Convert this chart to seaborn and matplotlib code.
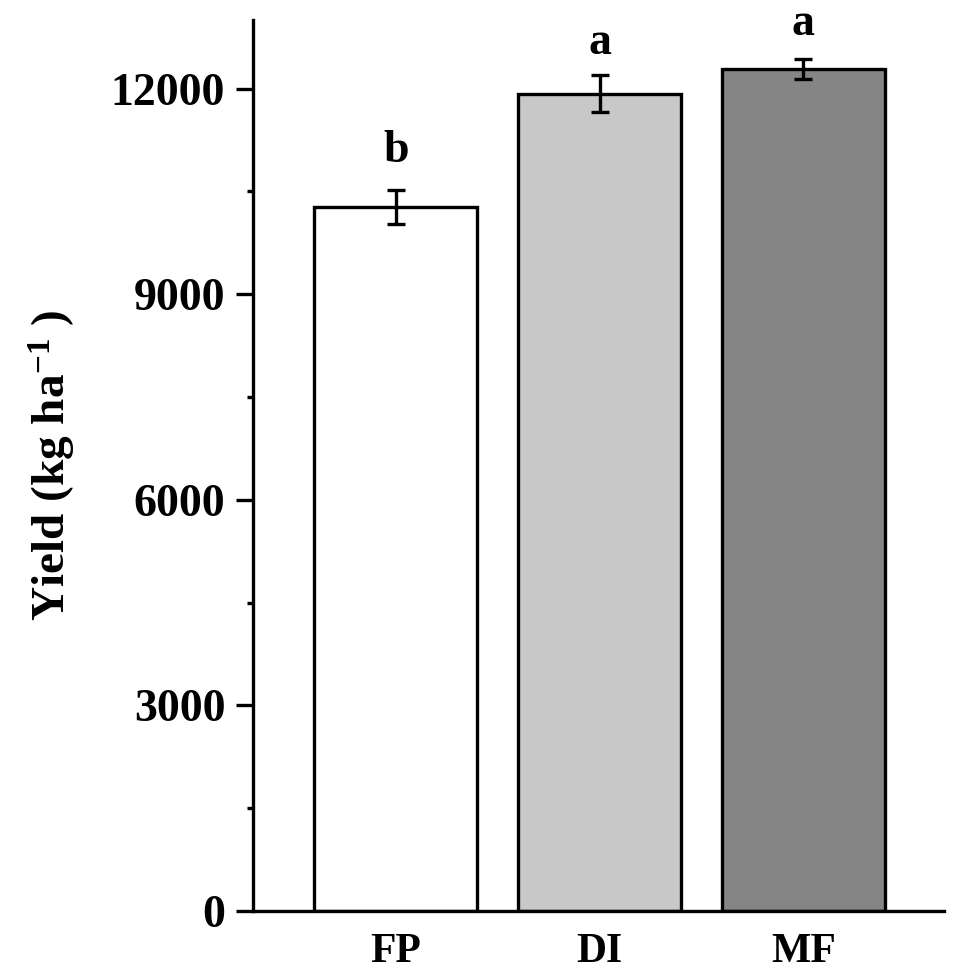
import matplotlib
matplotlib.use("Agg")
import matplotlib.pyplot as plt
import seaborn as sns
import pandas as pd
from matplotlib.ticker import MultipleLocator

# ---- data ----
treatments = ["FP", "DI", "MF"]
yield_mean = [10270, 11925, 12285]
yield_err = [250, 268, 142]
sig_letters = ["b", "a", "a"]
letter_y = [10926, 12504, 12781]
bar_colors = ["#ffffff", "#c8c8c8", "#858585"]
y_ticks = [0, 3000, 6000, 9000, 12000]

sns.set_theme(style="ticks")
plt.rcParams["font.family"] = ["Liberation Serif", "DejaVu Serif"]
plt.rcParams["font.weight"] = "bold"
plt.rcParams["text.color"] = "black"
plt.rcParams["axes.labelcolor"] = "black"
plt.rcParams["mathtext.fontset"] = "custom"
plt.rcParams["mathtext.rm"] = "Liberation Serif:bold"
plt.rcParams["mathtext.bf"] = "Liberation Serif:bold"
plt.rcParams["mathtext.default"] = "bf"

df = pd.DataFrame({"Treatment": treatments, "Yield": yield_mean})

fig = plt.figure(figsize=(9.59, 9.80), dpi=100)
ax = fig.add_axes([253 / 959, 1 - 911 / 980, (944 - 253) / 959, (911 - 20) / 980])

sns.barplot(data=df, x="Treatment", y="Yield", hue="Treatment",
            palette=bar_colors, order=treatments, hue_order=treatments,
            edgecolor="black", linewidth=2.4, width=0.8, errorbar=None,
            legend=False, ax=ax, saturation=1)

xpos = list(range(len(treatments)))
ax.errorbar(xpos, yield_mean, yerr=yield_err, fmt="none", ecolor="black",
            elinewidth=2.4, capsize=6.8, capthick=2.4, zorder=5)

for x, lab, ly in zip(xpos, sig_letters, letter_y):
    ax.text(x, ly, lab, ha="center", va="baseline", fontsize=33,
            fontweight="bold", family="Liberation Serif", color="black")

ax.set_xlim(-0.70, 2.69)
ax.set_ylim(0, 13000)
ax.set_yticks(y_ticks)
ax.set_yticklabels([str(t) for t in y_ticks])
ax.yaxis.set_minor_locator(MultipleLocator(1500))

for s in ["top", "right"]:
    ax.spines[s].set_visible(False)
for s in ["left", "bottom"]:
    ax.spines[s].set_linewidth(2.4)
    ax.spines[s].set_color("black")

ax.tick_params(axis="y", which="major", direction="out", length=12, width=2.4,
               labelsize=33, pad=8, colors="black")
ax.tick_params(axis="y", which="minor", direction="out", length=4.5, width=2.4,
               colors="black")
ax.tick_params(axis="x", which="both", length=0, labelsize=30, pad=16,
               colors="black")
for lab in ax.get_xticklabels() + ax.get_yticklabels():
    lab.set_fontweight("bold")

ax.set_xlabel("")
ax.set_ylabel("Yield (kg ha$^{-1}$ )", fontsize=34, fontweight="bold",
              labelpad=24, color="black")

fig.savefig("out.png", dpi=100, facecolor="white")
